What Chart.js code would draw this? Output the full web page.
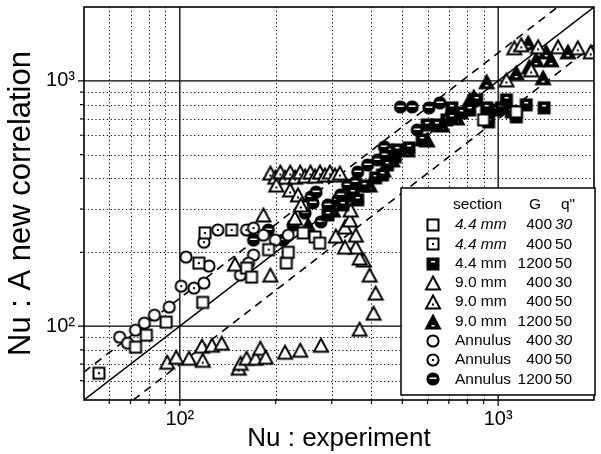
<!DOCTYPE html>
<html>
<head>
<meta charset="utf-8">
<script src="https://cdn.jsdelivr.net/npm/chart.js@4.4.0/dist/chart.umd.min.js"></script>
<style>
  html, body { margin: 0; padding: 0; background: #fff; }
</style>
</head>
<body>
<canvas id="myChart" width="601" height="454"></canvas>
<script>
// both axes are log, 50 .. 2000
const axisMin = 50, axisMax = 2000;
const majorTicks = [100, 1000];
const minorTicks = [60, 70, 80, 90, 200, 300, 400, 500, 600, 700, 800, 900];

// [Nu experiment, Nu correlation]
const sq44_400_30 = [[72.6,82.1],[78.5,91.9],[90.6,103.8],[118,125],[162,172.5],[168,158.5],[216,181],[219,200],[244,240],[266,231],[275,218],[900,693],[1140,747]];
const sq44_400_50 = [[55.7,64.3],[114.8,180.7],[120,240],[145.5,246.6],[190,205]];
const sq44_1200_50 = [[292,284],[325,312],[349,349],[362,327],[380,373],[412,402],[433,413],[449,454],[475,490],[482,523],[525,533],[577,574],[598,661],[642,661],[690,693],[715,706],[715,776],[769,740],[814,761],[856,836],[920,776],[988,761],[1024,776],[1062,836],[1100,747],[1140,713],[1225,798],[933,680],[1394,776]];
const tri90_400_30 = [[91.3,71.3],[97.4,74.7],[106.9,74],[117.3,82.9],[126.1,83.6],[135.4,85.2],[155.2,70.6],[162,74],[173,74],[179,81.3],[186,74.7],[214,78.3],[239,79.8],[277.5,83.6],[367,97.2],[406,113],[412,136.4],[394.5,161.5],[378,186],[367,189.5],[357,210],[330,210],[309,233],[357,235],[330,253.5],[342,271],[344,297.5],[149,179],[192.5,161.5],[183,284],[230,276]];
const tri90_400_50 = [[118,72.6],[153,67.4],[192.5,421],[199.5,405],[206.9,425],[214.3,405],[222.2,425],[230.3,405],[238.8,425],[247.5,409],[257.2,425],[265.9,409],[275.5,425],[285.6,413],[296,425],[306.9,413],[318.1,421],[201,376],[222,359],[235,343],[240,312],[1124,1364],[1182,1403],[1335,1377],[1542,1377],[1779,1364],[1953,1313],[1062,1009],[1270,1109]];
const tri90_1200_50 = [[253,258],[302.5,297.5],[357,343],[394.5,376],[436,433],[465,476],[518,523],[598,574],[666,661],[742,706],[814,836],[838,860],[920,991],[1140,1078],[1252,1141],[1384,1029],[1243,1429],[1414,1313],[1656,1313],[1466,1218],[1316,1218]];
const ann_400_30 = [[64.7,90.2],[68.5,85.2],[72.6,96.3],[77.4,102.9],[83.2,110.9],[92.6,119.6],[119,149.8],[104.6,191.2],[123.4,175.8],[170.4,195],[164.4,180.7],[155,161.5],[183,235],[199.5,224.4],[219,235]];
const ann_400_50 = [[101,145.6],[110.8,142.9],[131.6,246.6],[119,220],[162,246.6],[170.4,251]];
const ann_1200_50 = [[189.7,246.6],[170.4,224.4],[247.5,289],[258,336],[268,352],[262,318],[277.5,266],[291.8,312],[313.5,327],[320,343],[336.8,376],[362,425],[357,387],[389,454],[418,476],[439,538],[442,499],[465,523],[557,631],[493,783],[537,783],[606,776],[656,813],[211,224.4],[227,258]];

// y = k * x reference lines
const lineFactors = [1, 1.3, 0.7];

// legend table
const legendSection = ['4.4 mm','4.4 mm','4.4 mm','9.0 mm','9.0 mm','9.0 mm','Annulus','Annulus','Annulus'];
const legendG = ['400','400','1200','400','400','1200','400','400','1200'];
const legendQ = ['30','50','50','30','50','50','30','50','50'];

const FONT = "'Liberation Sans', Arial, sans-serif";

function makeMarker(shape, fill) {
  const c = document.createElement('canvas');
  c.width = 18; c.height = 18;
  const g = c.getContext('2d');
  g.lineWidth = 2; g.strokeStyle = '#000'; g.lineJoin = 'miter';
  g.beginPath();
  if (shape === 'square') g.rect(3.5, 3.5, 11, 11);
  else if (shape === 'triangle') { g.moveTo(9, 2.5); g.lineTo(16, 15.5); g.lineTo(2, 15.5); g.closePath(); }
  else g.arc(9, 9, 5.6, 0, Math.PI * 2);
  g.fillStyle = fill === 'solid' ? '#000' : '#fff';
  g.fill(); g.stroke();
  if (fill === 'dot') {
    g.fillStyle = '#000';
    g.fillRect(8, shape === 'triangle' ? 10.5 : 8, 2, 2);
  }
  if (fill === 'solid') {
    g.fillStyle = '#fff';
    if (shape === 'square') g.fillRect(7, 6, 4, 1.5);
    else if (shape === 'triangle') g.fillRect(7.5, 12, 3, 1.5);
    else g.fillRect(5.5, 7.5, 7, 1.5);
  }
  return c;
}

const markers = [
  makeMarker('square', 'open'), makeMarker('square', 'dot'), makeMarker('square', 'solid'),
  makeMarker('triangle', 'open'), makeMarker('triangle', 'dot'), makeMarker('triangle', 'solid'),
  makeMarker('circle', 'open'), makeMarker('circle', 'dot'), makeMarker('circle', 'solid')
];
const seriesData = [sq44_400_30, sq44_400_50, sq44_1200_50, tri90_400_30, tri90_400_50, tri90_1200_50, ann_400_30, ann_400_50, ann_1200_50];

const toXY = arr => arr.map(p => ({ x: p[0], y: p[1] }));

const datasets = seriesData.map((d, i) => ({
  label: legendSection[i] + ' ' + legendG[i] + ' ' + legendQ[i],
  data: toXY(d),
  pointStyle: markers[i],
  pointRadius: 6,
  showLine: false
}));

// reference lines go last so they are drawn under the markers
lineFactors.forEach(k => {
  const x0 = Math.max(axisMin, axisMin / k), x1 = Math.min(axisMax, axisMax / k);
  datasets.push({
    label: 'k' + k,
    data: [{ x: x0, y: x0 * k }, { x: x1, y: x1 * k }],
    showLine: true,
    pointRadius: 0,
    borderColor: '#000',
    borderWidth: k === 1 ? 1.4 : 1.6,
    borderDash: k === 1 ? [] : [8, 6]
  });
});

const tickLabel = v => (v === 100 ? '10\u00b2' : v === 1000 ? '10\u00b3' : '');

const framePlugin = {
  id: 'frame',
  beforeDatasetsDraw(chart) {
    const { ctx, chartArea: a, scales: { x, y } } = chart;
    ctx.save();
    ctx.strokeStyle = '#000';
    ctx.lineWidth = 1;
    ctx.setLineDash([1.2, 2.6]);
    ctx.beginPath();
    minorTicks.forEach(v => {
      const px = Math.round(x.getPixelForValue(v)) + 0.5;
      ctx.moveTo(px, a.top); ctx.lineTo(px, a.bottom);
      const py = Math.round(y.getPixelForValue(v)) + 0.5;
      ctx.moveTo(a.left, py); ctx.lineTo(a.right, py);
    });
    ctx.stroke();
    ctx.setLineDash([]);
    ctx.lineWidth = 1.3;
    ctx.beginPath();
    majorTicks.forEach(v => {
      const px = x.getPixelForValue(v);
      ctx.moveTo(px, a.top); ctx.lineTo(px, a.bottom);
      const py = y.getPixelForValue(v);
      ctx.moveTo(a.left, py); ctx.lineTo(a.right, py);
    });
    ctx.stroke();
    ctx.restore();
  },
  afterDatasetsDraw(chart) {
    const { ctx, chartArea: a, scales: { x, y } } = chart;
    ctx.save();
    // outer frame
    ctx.strokeStyle = '#000';
    ctx.lineWidth = 1.6;
    ctx.strokeRect(a.left, a.top, a.right - a.left, a.bottom - a.top);
    // outward ticks on left and bottom
    ctx.lineWidth = 1.2;
    ctx.beginPath();
    minorTicks.concat(majorTicks).forEach(v => {
      const len = majorTicks.includes(v) ? 6 : 4;
      const px = x.getPixelForValue(v);
      ctx.moveTo(px, a.bottom); ctx.lineTo(px, a.bottom + len);
      const py = y.getPixelForValue(v);
      ctx.moveTo(a.left, py); ctx.lineTo(a.left - len, py);
    });
    ctx.stroke();

    // legend table
    const bx = 401, by = 188, bw = 194, bh = 207;
    ctx.fillStyle = '#fff';
    ctx.fillRect(bx, by, bw, bh);
    ctx.lineWidth = 1.5;
    ctx.strokeRect(bx, by, bw, bh);
    ctx.fillStyle = '#000';
    ctx.textBaseline = 'middle';
    ctx.font = '15.5px ' + FONT;
    ctx.textAlign = 'left';
    ctx.fillText('section', 453, 205);
    ctx.textAlign = 'center';
    ctx.fillText('G', 535, 205);
    ctx.textAlign = 'left';
    ctx.fillText('q"', 561, 205);
    const italicSec = [true, true, false, false, false, false, false, false, false];
    const italicQ = [true, false, false, false, false, false, true, false, false];
    for (let i = 0; i < 9; i++) {
      const ry = 225 + i * 19.3;
      ctx.drawImage(markers[i], 433 - 9, Math.round(ry) - 9);
      ctx.textAlign = 'left';
      ctx.font = (italicSec[i] ? 'italic ' : '') + '15.5px ' + FONT;
      ctx.fillText(legendSection[i], 455, ry);
      ctx.font = '15.5px ' + FONT;
      ctx.textAlign = 'right';
      ctx.fillText(legendG[i], 552, ry);
      ctx.textAlign = 'left';
      ctx.font = (italicQ[i] ? 'italic ' : '') + '15.5px ' + FONT;
      ctx.fillText(legendQ[i], 555, ry);
    }
    ctx.restore();
  }
};

const ctx = document.getElementById('myChart').getContext('2d');
new Chart(ctx, {
  type: 'scatter',
  data: { datasets: datasets },
  options: {
    responsive: false,
    animation: false,
    layout: { padding: { top: 7, right: 2.5, left: 0, bottom: 0 } },
    plugins: { legend: { display: false }, tooltip: { enabled: false } },
    scales: {
      x: {
        type: 'logarithmic', min: axisMin, max: axisMax,
        grid: { display: false, drawTicks: false },
        border: { display: false },
        afterBuildTicks: s => { s.ticks = majorTicks.map(v => ({ value: v })); },
        afterFit: s => { s.height = 54; s.paddingLeft = 0; s.paddingRight = 0; },
        ticks: { callback: v => tickLabel(v), color: '#000', font: { family: FONT, size: 20 }, padding: 7, maxRotation: 0, autoSkip: false },
        title: { display: true, text: 'Nu : experiment', color: '#000', font: { family: FONT, size: 26 }, padding: 0 }
      },
      y: {
        type: 'logarithmic', min: axisMin, max: axisMax,
        grid: { display: false, drawTicks: false },
        border: { display: false },
        afterBuildTicks: s => { s.ticks = majorTicks.map(v => ({ value: v })); },
        afterFit: s => { s.width = 84; s.paddingTop = 0; s.paddingBottom = 0; },
        ticks: { callback: v => tickLabel(v), color: '#000', font: { family: FONT, size: 20 }, padding: 9, autoSkip: false },
        title: { display: true, text: 'Nu : A new correlation', color: '#000', font: { family: FONT, size: 31 }, padding: { top: 3, bottom: 0 } }
      }
    }
  },
  plugins: [framePlugin]
});
</script>
</body>
</html>
